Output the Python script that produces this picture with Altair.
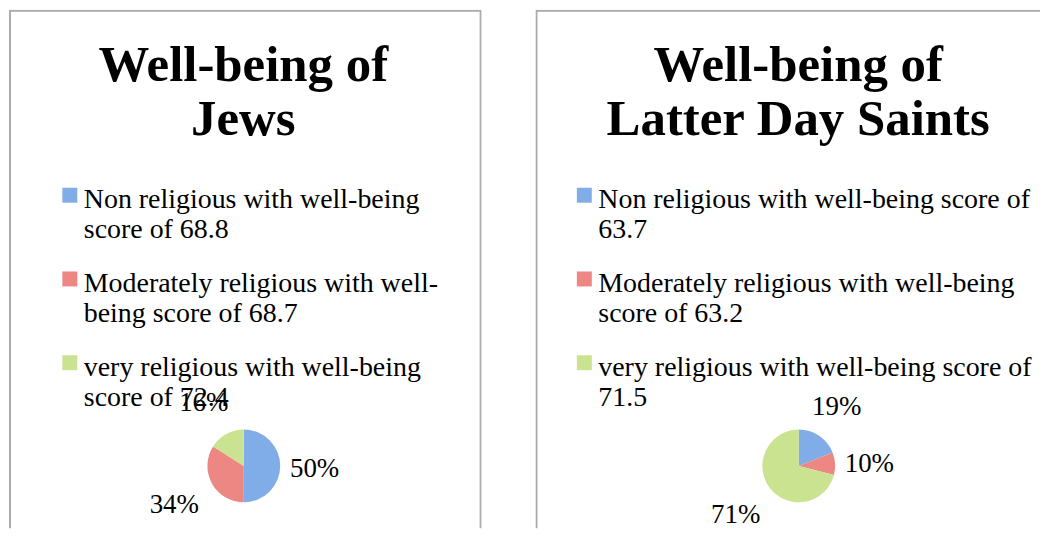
import altair as alt
import pandas as pd

colors = ["#80ADE8", "#EC8784", "#CAE391"]

jews_title = ["Well-being of", "Jews"]
jews_legend = [
    "Non religious with well-being|score of 68.8",
    "Moderately religious with well-|being score of 68.7",
    "very religious with well-being|score of 72.4",
]
jews_pct = [50, 34, 16]

lds_title = ["Well-being of", "Latter Day Saints"]
lds_legend = [
    "Non religious with well-being score of|63.7",
    "Moderately religious with well-being|score of 63.2",
    "very religious with well-being score of|71.5",
]
lds_pct = [19, 10, 71]

FONT = "Liberation Serif"
SYMBOL = "M-1,0.2L1,0.2L1,2.2L-1,2.2Z"
HEIGHT = 520


def panel(title, legend_labels, pct, width, legend_x, cx, title_dx, open_right):
    df = pd.DataFrame({"group": legend_labels, "pct": pct, "idx": list(range(len(pct)))})
    frame = alt.Chart(pd.DataFrame({"frame": [0]})).mark_rect(
        filled=False, stroke="#ABABAB", strokeWidth=2, clip=True
    ).encode(
        x=alt.value(1),
        x2=alt.value(width + 40 if open_right else width - 1),
        y=alt.value(1),
        y2=alt.value(HEIGHT + 40),
    )
    base = alt.Chart(df).encode(
        theta=alt.Theta("pct:Q", stack=True),
        order=alt.Order("idx:Q"),
    )
    arcs = base.mark_arc(radius=36.5).encode(
        x=alt.value(cx),
        y=alt.value(457.5),
        color=alt.Color(
            "group:N",
            scale=alt.Scale(domain=legend_labels, range=colors),
            legend=alt.Legend(
                orient="none",
                legendX=legend_x,
                legendY=163,
                title=None,
                padding=0,
                labelExpr="split(datum.label, '|')",
                labelFont=FONT,
                labelFontSize=28,
                labelColor="black",
                labelBaseline="top",
                labelLimit=800,
                labelOffset=0,
                symbolOffset=4,
                symbolType=SYMBOL,
                symbolSize=225,
                symbolStrokeWidth=0,
                symbolOpacity=1,
                rowPadding=12,
            ),
        ),
    )
    labels = base.mark_text(
        radius=75, dx=-4, dy=3, font=FONT, fontSize=27, color="black"
    ).encode(
        x=alt.value(cx),
        y=alt.value(457.5),
        text=alt.Text("lbl:N"),
    ).transform_calculate(lbl="datum.pct + '%'")
    return alt.layer(frame, arcs, labels).properties(
        width=width,
        height=HEIGHT,
        title=alt.TitleParams(
            text=title,
            font=FONT,
            fontSize=51,
            fontWeight="bold",
            lineHeight=55,
            anchor="middle",
            color="black",
            offset=-137,
            dx=title_dx,
        ),
    )


left = panel(jews_title, jews_legend, jews_pct, 474, 43, 235.5, -2, False)
right = panel(lds_title, lds_legend, lds_pct, 506, 31, 264, 10.5, True)

chart = (
    alt.hconcat(left, right, spacing=52, padding=0)
    .resolve_scale(color="independent")
    .configure_view(stroke="transparent")
)

chart.save("out.html", embed_options={"renderer": "svg", "actions": False})
